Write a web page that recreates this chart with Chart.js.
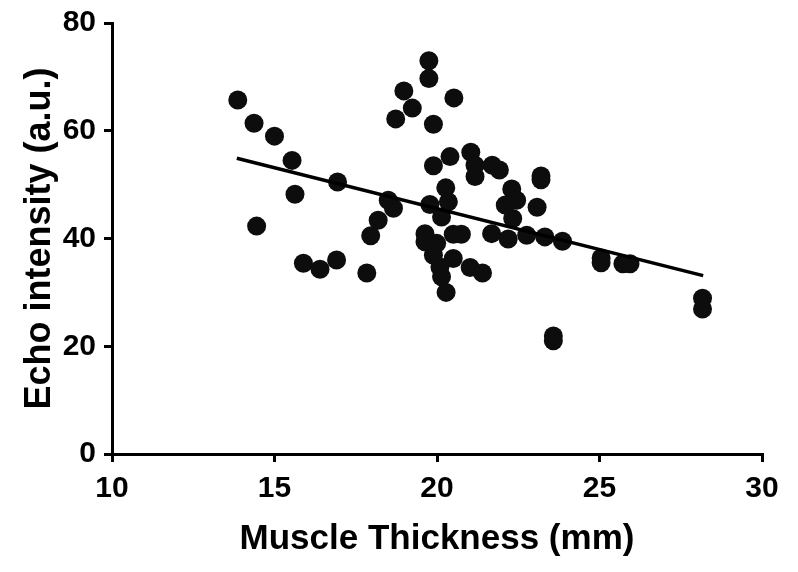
<!DOCTYPE html>
<html>
<head>
<meta charset="utf-8">
<script src="https://cdn.jsdelivr.net/npm/chart.js@4/dist/chart.umd.min.js"></script>
<style>
  html, body { margin: 0; padding: 0; background: #fff; }
  #wrap { width: 798px; height: 572px; }
</style>
</head>
<body>
<div id="wrap"><canvas id="c" width="798" height="572"></canvas></div>
<script>
// Muscle thickness (mm) for each subject
const thickness = [
  13.87, 14.37, 15.0, 15.54, 16.94, 15.63, 14.45, 15.89, 16.4, 16.91,
  17.84, 17.96, 18.19, 18.5, 18.66, 18.73, 18.98, 19.24, 19.75, 19.75,
  19.89, 20.52, 19.89, 20.4, 21.04, 21.17, 21.17, 21.7, 21.92, 23.2,
  23.2, 22.3, 20.27, 20.35, 19.78, 20.14, 22.45, 22.1, 22.33, 23.08,
  19.63, 19.63, 19.99, 20.5, 20.75, 19.89, 20.5, 20.09, 20.14, 20.28,
  21.02, 21.4, 21.68, 22.19, 22.76, 23.32, 23.86, 23.58, 23.58, 25.05,
  25.05, 25.72, 25.94, 28.17, 28.17
];
// Echo intensity (a.u.) for each subject
const echo = [
  65.7, 61.4, 59.0, 54.5, 50.5, 48.2, 42.3, 35.4, 34.3, 36.0,
  33.6, 40.5, 43.4, 47.1, 45.6, 62.2, 67.4, 64.2, 73.0, 69.7,
  61.2, 66.1, 53.5, 55.2, 56.0, 53.6, 51.5, 53.6, 52.7, 51.6,
  50.9, 49.2, 49.4, 46.8, 46.3, 44.0, 47.1, 46.2, 43.7, 45.8,
  40.9, 39.4, 39.1, 40.8, 40.8, 36.9, 36.3, 34.7, 32.9, 30.0,
  34.6, 33.6, 40.9, 39.9, 40.6, 40.3, 39.5, 21.9, 21.0, 36.4,
  35.5, 35.3, 35.3, 28.9, 26.9
];
// Regression line end points
const fitX = [13.84, 28.19];
const fitY = [54.9, 33.1];
// Tick values
const xTicks = [10, 15, 20, 25, 30];
const yTicks = [0, 20, 40, 60, 80];

const xTitle = 'Muscle Thickness (mm)';
const yTitle = 'Echo intensity (a.u.)';

const scatterPts = thickness.map((x, i) => ({ x: x, y: echo[i] }));
const fitPts = fitX.map((x, i) => ({ x: x, y: fitY[i] }));

const FONT = "'Liberation Sans', Arial, Helvetica, sans-serif";

new Chart(document.getElementById('c'), {
  type: 'scatter',
  data: {
    datasets: [
      {
        type: 'line',
        data: fitPts,
        borderColor: '#000',
        borderWidth: 3.5,
        pointRadius: 0,
        fill: false,
        tension: 0,
        order: 0
      },
      {
        data: scatterPts,
        backgroundColor: '#0d0d0d',
        borderColor: '#0d0d0d',
        borderWidth: 0,
        pointRadius: 9.5,
        pointHoverRadius: 9.5,
        order: 1
      }
    ]
  },
  options: {
    responsive: false,
    devicePixelRatio: 1,
    animation: false,
    events: [],
    layout: { padding: { top: 23, right: 36, bottom: 0, left: 0 } },
    plugins: { legend: { display: false }, tooltip: { enabled: false } },
    scales: {
      x: {
        type: 'linear',
        min: 10, max: 30,
        afterBuildTicks: (s) => { s.ticks = xTicks.map(v => ({ value: v })); },
        afterFit: (s) => { s.height = 118; },
        border: { display: true, color: '#000', width: 3 },
        grid: { display: true, drawOnChartArea: false, drawTicks: true, tickLength: 8, lineWidth: 3, color: '#000' },
        ticks: { color: '#000', padding: 12, font: { family: FONT, size: 30, weight: 'bold', lineHeight: 1 }, maxRotation: 0 },
        title: { display: true, text: xTitle, color: '#000', font: { family: FONT, size: 35, weight: 'bold' }, padding: { top: 0, bottom: 12 } }
      },
      y: {
        type: 'linear',
        min: 0, max: 80,
        afterBuildTicks: (s) => { s.ticks = yTicks.map(v => ({ value: v })); },
        afterFit: (s) => { s.width = 112; },
        border: { display: true, color: '#000', width: 3 },
        grid: { display: true, drawOnChartArea: false, drawTicks: true, tickLength: 8, lineWidth: 3, color: '#000' },
        ticks: { color: '#000', padding: 8, font: { family: FONT, size: 30, weight: 'bold', lineHeight: 1 } },
        title: { display: true, text: yTitle, color: '#000', font: { family: FONT, size: 36, weight: 'bold' }, padding: { top: 18, bottom: 0 } }
      }
    }
  }
});
</script>
</body>
</html>
